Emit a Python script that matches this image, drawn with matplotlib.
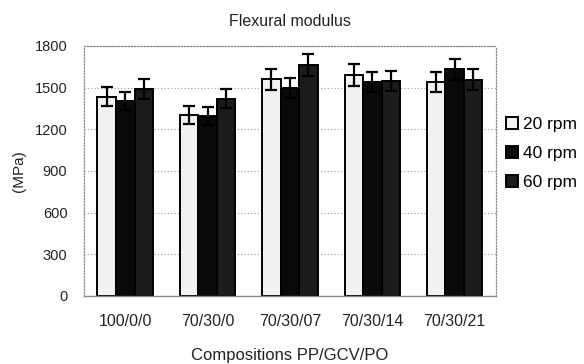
import numpy as np
import matplotlib
matplotlib.use('Agg')
import matplotlib.pyplot as plt

plt.rcParams['font.family'] = ['Liberation Sans', 'DejaVu Sans']

compositions = ['100/0/0', '70/30/0', '70/30/07', '70/30/14', '70/30/21']
speeds = ['20 rpm', '40 rpm', '60 rpm']

# flexural modulus (MPa) and standard deviation for each screw speed
modulus_20 = [1435, 1300, 1560, 1590, 1540]
modulus_40 = [1400, 1295, 1500, 1540, 1630]
modulus_60 = [1490, 1420, 1660, 1545, 1555]
err_20 = [70, 65, 75, 80, 75]
err_40 = [65, 62, 72, 70, 75]
err_60 = [70, 68, 78, 72, 75]

values = [modulus_20, modulus_40, modulus_60]
errors = [err_20, err_40, err_60]
faces = ['#f1f1f1', '#0a0a0a', '#1c1c1c']

fig = plt.figure(figsize=(5.84, 3.64), dpi=100)
ax = fig.add_axes([0.144, 0.187, 0.705, 0.687])

x = np.arange(len(compositions))
width = 0.225
for i, (vals, errs, fc) in enumerate(zip(values, errors, faces)):
    pos = x + (i - 1) * width
    ax.bar(pos, vals, width, color=fc, edgecolor='black', linewidth=1.4,
           label=speeds[i], zorder=2)
    ax.errorbar(pos, vals, yerr=errs, fmt='none', ecolor='black',
                elinewidth=1.6, capsize=4.5, capthick=1.6, zorder=3)

ax.set_ylim(0, 1800)
ax.set_xlim(-0.5, len(compositions) - 0.5)
ax.set_yticks(range(0, 1801, 300))
ax.set_xticks(x)
ax.set_xticklabels(compositions)
ax.tick_params(axis='both', length=0, colors='#222222')
ax.tick_params(axis='y', labelsize=10.5, pad=12)
ax.tick_params(axis='x', labelsize=11.5, pad=13)

ax.yaxis.grid(True, linestyle=(0, (1, 2)), color='#999999', linewidth=0.8, zorder=0)
ax.set_axisbelow(True)
for side in ['top', 'right', 'left']:
    ax.spines[side].set_linestyle((0, (1, 1.5)))
    ax.spines[side].set_color('#888888')
    ax.spines[side].set_linewidth(0.9)
ax.spines['bottom'].set_color('#888888')
ax.spines['bottom'].set_linewidth(1.0)

ax.set_title('Flexural modulus', fontsize=11.5, pad=14, color='#222222')
ax.set_ylabel('(MPa)', fontsize=11, labelpad=6, color='#222222')
ax.set_xlabel('Compositions PP/GCV/PO', fontsize=12, labelpad=14, color='#222222')

ax.legend(loc='center left', bbox_to_anchor=(1.0, 0.57), frameon=False,
          fontsize=12.5, handlelength=0.7, handleheight=0.7,
          handletextpad=0.25, labelspacing=0.8, borderaxespad=0.2)

fig.savefig('out.png', dpi=100)
